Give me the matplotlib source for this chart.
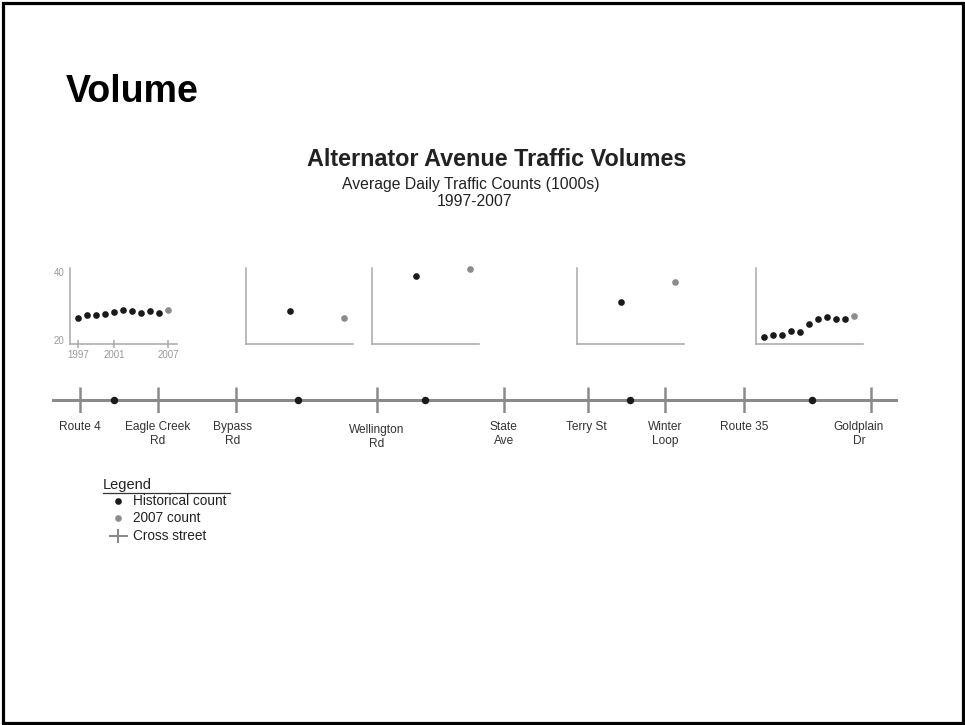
import matplotlib
matplotlib.use("Agg")
import matplotlib.pyplot as plt
from matplotlib.patches import Rectangle
from matplotlib.lines import Line2D

plt.rcParams['font.family'] = ['Liberation Sans', 'DejaVu Sans']

# ---------------- data ----------------
street_names = ["Route 4", "Eagle Creek\nRd", "Bypass\nRd", "Wellington\nRd", "State\nAve",
                "Terry St", "Winter\nLoop", "Route 35", "Goldplain\nDr"]
street_pos = [0.33, 1.25, 2.17, 3.84, 5.34, 6.34, 7.25, 8.18, 9.68]
count_pos = [0.73, 2.91, 4.41, 6.83, 8.98]

years1 = [1997, 1998, 1999, 2000, 2001, 2002, 2003, 2004, 2005, 2006]
hist1 = [26.6, 27.4, 27.4, 27.6, 28.2, 28.8, 28.5, 27.9, 28.5, 27.9]
years2 = [2001]
hist2 = [28.5]
years3 = [2001]
hist3 = [38.8]
years4 = [2001]
hist4 = [31.1]
years5 = [1997, 1998, 1999, 2000, 2001, 2002, 2003, 2004, 2005, 2006]
hist5 = [21.0, 21.5, 21.5, 22.6, 22.4, 24.7, 26.1, 26.8, 26.2, 26.2]
val2007 = [28.8, 26.5, 40.8, 37.1, 27.1]

hist_years = [years1, years2, years3, years4, years5]
hist_vals = [hist1, hist2, hist3, hist4, hist5]

year_ticks = [1997, 2001, 2007]
y_ticks = [20, 40]

# ---------------- figure ----------------
W, H = 965, 725
fig = plt.figure(figsize=(W / 100, H / 100), dpi=100)
fig.patch.set_facecolor("white")

def fx(px):
    return px / W

def fy(py):
    return 1 - py / H

# slide border
fig.add_artist(Rectangle((fx(3.3), fy(722.5)), fx(963) - fx(3.3), fy(3.3) - fy(722.5),
                         transform=fig.transFigure, fill=False, edgecolor="black",
                         linewidth=2.3))

fig.text(fx(66), fy(91.5), "Volume", fontsize=27, fontweight="bold", ha="left", va="center",
         color="black")
fig.text(fx(496.5), fy(159.5), "Alternator Avenue Traffic Volumes", fontsize=16.8,
         fontweight="bold", ha="center", va="center", color="#222222")
fig.text(fx(471), fy(185), "Average Daily Traffic Counts (1000s)", fontsize=11.3,
         ha="center", va="center", color="#222222")
fig.text(fx(475), fy(202), "1997-2007", fontsize=11.3, ha="center", va="center",
         color="#222222")

BLACK = "#1a1a1a"
GREY = "#8c8c8c"
SPINE = "#a8a8a8"

# ---------------- mini plots ----------------
panel_left_px = [70, 246, 372, 577, 756]
panel_w_px = 107
panel_top_px, panel_bot_px = 268, 344

for i in range(5):
    ax = fig.add_axes([fx(panel_left_px[i]), fy(panel_bot_px),
                       fx(panel_w_px), fy(panel_top_px) - fy(panel_bot_px)])
    ax.set_xlim(1996.11, 2008.0)
    ax.set_ylim(18.82, 41.18)
    ax.set_facecolor("none")
    for s in ["top", "right"]:
        ax.spines[s].set_visible(False)
    for s in ["left", "bottom"]:
        ax.spines[s].set_color(SPINE)
        ax.spines[s].set_linewidth(1.1)
    ax.plot(hist_years[i], hist_vals[i], "o", color=BLACK, markersize=4.8,
            markeredgewidth=0, clip_on=False)
    ax.plot([2007], [val2007[i]], "o", color=GREY, markersize=4.8,
            markeredgewidth=0, clip_on=False)
    if i == 0:
        ax.set_xticks(year_ticks)
        ax.set_xticklabels([str(y) for y in year_ticks])
        ax.set_yticks(y_ticks)
        ax.set_yticklabels([str(v) for v in y_ticks])
        ax.tick_params(axis="x", direction="inout", length=5.5, width=1.1, color=SPINE,
                       labelsize=7, labelcolor="#999999", pad=1.5)
        ax.tick_params(axis="y", length=0, labelsize=7, labelcolor="#999999", pad=4)
    else:
        ax.set_xticks([])
        ax.set_yticks([])

# ---------------- road ----------------
road_left_px, road_right_px = 52, 898
road = fig.add_axes([fx(road_left_px), fy(413), fx(road_right_px - road_left_px),
                     fy(387) - fy(413)])
road.set_xlim(0, 10)
road.set_ylim(-1, 1)
road.axis("off")
road.axhline(0, color="#8a8a8a", linewidth=2.2, zorder=1)
road.vlines(street_pos, -1, 1, color="#8a8a8a", linewidth=1.8, zorder=1)
road.plot(count_pos, [0] * len(count_pos), "o", color=BLACK, markersize=5.4,
          markeredgewidth=0, zorder=3, clip_on=False)

label_dx = {"Bypass\nRd": -3, "Goldplain\nDr": -12, "Terry St": -2}
for name, pos in zip(street_names, street_pos):
    dy = -6 if not name.startswith("Wellington") else -8
    road.annotate(name, xy=(pos, -1), xytext=(label_dx.get(name, 0) * 0.72, dy),
                  textcoords="offset points", ha="center", va="top",
                  fontsize=8.6, color="#333333", linespacing=1.2,
                  multialignment="center")

# ---------------- legend ----------------
fig.text(fx(103), fy(484.5), "Legend", fontsize=10.5, ha="left", va="center",
         color="#222222")
fig.add_artist(Line2D([fx(103), fx(230)], [fy(492.5), fy(492.5)],
                      transform=fig.transFigure, color="#333333", linewidth=0.9))
leg_items = [("Historical count", 501), ("2007 count", 518), ("Cross street", 535.5)]
fig.add_artist(Line2D([fx(118)], [fy(501)], transform=fig.transFigure, marker="o",
                      color=BLACK, markersize=4.8, markeredgewidth=0, linestyle="none"))
fig.add_artist(Line2D([fx(118)], [fy(518)], transform=fig.transFigure, marker="o",
                      color=GREY, markersize=4.8, markeredgewidth=0, linestyle="none"))
fig.add_artist(Line2D([fx(109.5), fx(126.5)], [fy(535.5), fy(535.5)],
                      transform=fig.transFigure, color="#8a8a8a", linewidth=1.5))
fig.add_artist(Line2D([fx(118), fx(118)], [fy(529.5), fy(541.5)],
                      transform=fig.transFigure, color="#8a8a8a", linewidth=1.5))
for txt, yy in leg_items:
    fig.text(fx(133), fy(yy), txt, fontsize=9.8, ha="left", va="center", color="#222222")

fig.savefig("out.png", dpi=100, facecolor="white")
